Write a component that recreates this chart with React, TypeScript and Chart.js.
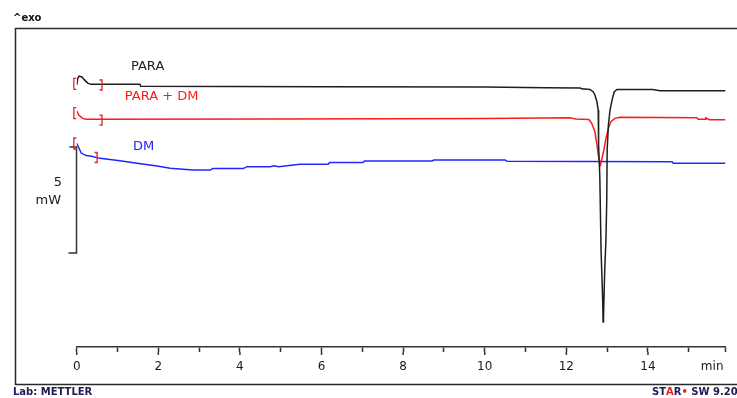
import React, { useEffect, useRef } from "react";
import { Chart, registerables } from "chart.js";

Chart.register(...registerables);

// ---- data (time in min, heat flow in mW; exo up) ----
const PARA_T = [0, 0.03, 0.06, 0.13, 0.19, 0.27, 0.35, 1.55, 1.57, 6, 10, 11.5, 12.34, 12.38, 12.58, 12.66, 12.7, 12.75, 12.78, 12.79, 12.82, 12.85, 12.89, 12.9, 12.91, 12.94, 12.97, 12.99, 13.0, 13.03, 13.07, 13.12, 13.17, 13.24, 14.12, 14.29, 15.9];
const PARA_V = [-2.68, -2.35, -2.26, -2.3, -2.44, -2.59, -2.65, -2.65, -2.74, -2.76, -2.78, -2.81, -2.82, -2.86, -2.89, -3.01, -3.15, -3.48, -3.86, -5.5, -7.0, -10.44, -12.79, -13.82, -13.63, -11.38, -9.97, -8.09, -5.74, -4.56, -3.86, -3.39, -3.01, -2.89, -2.89, -2.95, -2.95];

const MIX_T = [0, 0.05, 0.15, 0.23, 5, 10, 12.08, 12.23, 12.55, 12.62, 12.7, 12.75, 12.78, 12.84, 12.91, 12.97, 13.03, 13.09, 13.19, 13.32, 15.2, 15.23, 15.4, 15.42, 15.5, 15.9];
const MIX_V = [-3.89, -4.09, -4.25, -4.29, -4.28, -4.25, -4.22, -4.28, -4.3, -4.48, -4.88, -5.5, -5.97, -6.41, -5.82, -5.19, -4.72, -4.41, -4.25, -4.2, -4.22, -4.29, -4.29, -4.22, -4.31, -4.31];

const DM_T = [0, 0.11, 0.23, 0.33, 0.57, 1.06, 1.48, 1.97, 2.29, 2.85, 3.27, 3.34, 4.08, 4.17, 4.74, 4.85, 4.95, 5.47, 6.16, 6.2, 7.02, 7.05, 8.71, 8.75, 10.5, 10.55, 14.59, 14.62, 15.9];
const DM_V = [-5.42, -5.88, -6.0, -6.02, -6.13, -6.24, -6.36, -6.49, -6.6, -6.68, -6.68, -6.61, -6.61, -6.52, -6.52, -6.48, -6.52, -6.41, -6.41, -6.33, -6.33, -6.25, -6.25, -6.21, -6.21, -6.27, -6.29, -6.36, -6.36];

const SERIES_NAMES = ["PARA", "PARA + DM", "DM"];
const SERIES_COLORS = ["#1e1e1e", "#ff1a1a", "#2424ff"];
// label anchors (t, mW)
const LABEL_T = [1.33, 1.18, 1.38];
const LABEL_V = [-1.83, -3.24, -5.59];
// evaluation limits brackets (t, mW)
const OPEN_T = [-0.07, -0.07, -0.07];
const OPEN_V = [-2.63, -4.0, -5.43];
const CLOSE_T = [0.62, 0.62, 0.5];
const CLOSE_V = [-2.68, -4.33, -6.09];

const X_TICKS = [0, 1, 2, 3, 4, 5, 6, 7, 8, 9, 10, 11, 12, 13, 14, 15, 15.9];
const X_MAX = 15.9;
const SCALE_BAR = [-10.58, -5.59]; // 5 mW
const SCALE_LABEL = ["5", "mW"];

const FONT = "'DejaVu Sans', Verdana, sans-serif";

function pts(t: number[], v: number[]) {
  return t.map((tt, i) => ({ x: tt, y: v[i] }));
}

const overlay = {
  id: "overlay",
  beforeDraw(chart: any) {
    const { ctx, width, height } = chart;
    ctx.save();
    ctx.fillStyle = "#ffffff";
    ctx.fillRect(0, 0, width, height);
    ctx.restore();
  },
  afterDraw(chart: any) {
    const { ctx } = chart;
    const xs = chart.scales.x;
    const ys = chart.scales.y;
    ctx.save();
    // frame
    ctx.strokeStyle = "#2a2a2a";
    ctx.lineWidth = 1.5;
    ctx.beginPath();
    ctx.moveTo(745, 28.5);
    ctx.lineTo(15.5, 28.5);
    ctx.lineTo(15.5, 384.5);
    ctx.lineTo(745, 384.5);
    ctx.stroke();

    // longer marks for the labelled (even) ticks
    ctx.strokeStyle = "#333";
    ctx.lineWidth = 1.5;
    const axisY = xs.top;
    for (const v of X_TICKS) {
      if (Number.isInteger(v) && v % 2 === 0) {
        const tx = xs.getPixelForValue(v);
        ctx.beginPath();
        ctx.moveTo(tx, axisY + 5);
        ctx.lineTo(tx, axisY + 8);
        ctx.stroke();
      }
    }

    // scale bar
    const bx = Math.round(xs.getPixelForValue(0)) - 0.5;
    const bTop = ys.getPixelForValue(SCALE_BAR[1]);
    const bBot = ys.getPixelForValue(SCALE_BAR[0]);
    ctx.beginPath();
    ctx.moveTo(bx - 7, bTop);
    ctx.lineTo(bx, bTop);
    ctx.lineTo(bx, bBot);
    ctx.lineTo(bx - 8, bBot);
    ctx.stroke();
    ctx.fillStyle = "#1a1a1a";
    ctx.font = `13px ${FONT}`;
    ctx.textAlign = "right";
    ctx.textBaseline = "middle";
    ctx.fillText(SCALE_LABEL[0], 62, 183);
    ctx.fillText(SCALE_LABEL[1], 61, 201);

    // brackets
    ctx.strokeStyle = "#e62020";
    ctx.lineWidth = 1.3;
    for (let i = 0; i < OPEN_T.length; i++) {
      const ox = xs.getPixelForValue(OPEN_T[i]);
      const oy = ys.getPixelForValue(OPEN_V[i]);
      ctx.beginPath();
      ctx.moveTo(ox + 2.5, oy - 5.5);
      ctx.lineTo(ox, oy - 5.5);
      ctx.lineTo(ox, oy + 5.5);
      ctx.lineTo(ox + 2.5, oy + 5.5);
      ctx.stroke();
      const cx = xs.getPixelForValue(CLOSE_T[i]);
      const cy = ys.getPixelForValue(CLOSE_V[i]);
      ctx.beginPath();
      ctx.moveTo(cx - 2.5, cy - 5);
      ctx.lineTo(cx, cy - 5);
      ctx.lineTo(cx, cy + 5);
      ctx.lineTo(cx - 2.5, cy + 5);
      ctx.stroke();
    }

    // series labels
    ctx.font = `13px ${FONT}`;
    ctx.textAlign = "left";
    ctx.textBaseline = "middle";
    for (let i = 0; i < SERIES_NAMES.length; i++) {
      ctx.fillStyle = SERIES_COLORS[i];
      ctx.fillText(SERIES_NAMES[i], xs.getPixelForValue(LABEL_T[i]), ys.getPixelForValue(LABEL_V[i]));
    }

    // axis unit
    ctx.fillStyle = "#1a1a1a";
    ctx.font = `12px ${FONT}`;
    ctx.textAlign = "right";
    ctx.textBaseline = "middle";
    ctx.fillText("min", xs.getPixelForValue(X_MAX) - 2, 367);

    // header / footer
    ctx.font = `bold 10px ${FONT}`;
    ctx.textAlign = "left";
    ctx.fillStyle = "#111";
    ctx.fillText("^exo", 13, 18);
    ctx.fillStyle = "#1c1c55";
    ctx.fillText("Lab: METTLER", 13, 392);

    const parts: [string, string][] = [
      ["ST", "#1c1c55"],
      ["A", "#e62020"],
      ["R", "#1c1c55"],
      ["\u2022", "#e62020"],
      [" SW 9.20", "#1c1c55"],
    ];
    let px = 652;
    for (const [s, c] of parts) {
      ctx.fillStyle = c;
      ctx.fillText(s, px, 392);
      px += ctx.measureText(s).width;
    }
    ctx.restore();
  },
};

export default function App() {
  const ref = useRef<HTMLCanvasElement | null>(null);
  useEffect(() => {
    if (!ref.current) return;
    const data = [pts(PARA_T, PARA_V), pts(MIX_T, MIX_V), pts(DM_T, DM_V)];
    const chart = new Chart(ref.current, {
      type: "line",
      data: {
        datasets: SERIES_NAMES.map((n, i) => ({
          label: n,
          data: data[i],
          borderColor: SERIES_COLORS[i],
          borderWidth: 1.5,
          pointRadius: 0,
          tension: 0,
          fill: false,
        })),
      },
      options: {
        animation: false,
        responsive: false,
        maintainAspectRatio: false,
        layout: { padding: { left: 76.7, right: 11.5, top: 28, bottom: 0 } },
        plugins: { legend: { display: false }, tooltip: { enabled: false }, title: { display: false } },
        scales: {
          x: {
            type: "linear",
            min: 0,
            max: X_MAX,
            position: "bottom",
            afterBuildTicks: (s: any) => {
              s.ticks = X_TICKS.map((v) => ({ value: v }));
            },
            afterFit: (s: any) => {
              s.height = 51;
            },
            ticks: {
              autoSkip: false,
              maxRotation: 0,
              padding: 8,
              color: "#1a1a1a",
              font: { size: 12, family: FONT },
              callback: (v: any) => (Number.isInteger(v) && v % 2 === 0 ? String(v) : ""),
            },
            grid: { drawOnChartArea: false, drawTicks: true, tickLength: 5, tickColor: "#333", tickWidth: 1.5 },
            border: { display: true, color: "#333", width: 1.5 },
          },
          y: { type: "linear", min: -15, max: 0, display: false },
        },
      },
      plugins: [overlay],
    });
    return () => chart.destroy();
  }, []);
  return (
    <div style={{ position: "fixed", left: 0, top: 0, width: 737, height: 398, background: "#fff" }}>
      <canvas ref={ref} width={737} height={398} style={{ display: "block" }} />
    </div>
  );
}
